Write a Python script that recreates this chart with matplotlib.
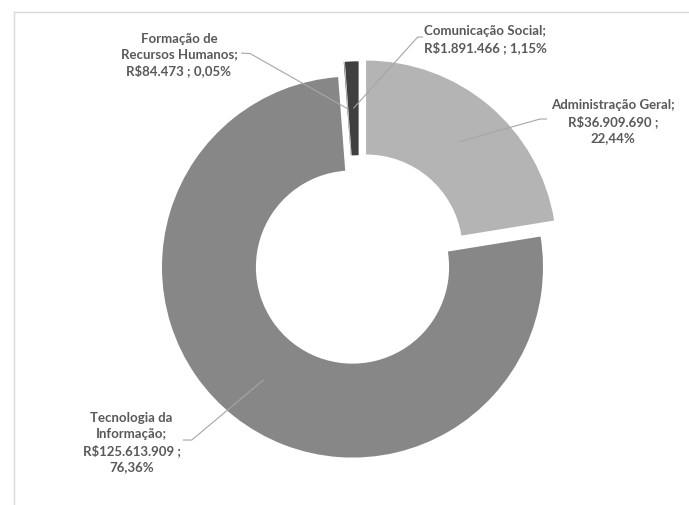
import numpy as np
import matplotlib.pyplot as plt
from matplotlib.lines import Line2D

plt.rcParams['font.family'] = ['Lato', 'DejaVu Sans']

# Despesas por área
areas = ['Administração Geral', 'Tecnologia da\nInformação',
         'Formação de\nRecursos Humanos', 'Comunicação Social']
valores = [36909690, 125613909, 84473, 1891466]
cores = ['#b4b4b4', '#878787', '#5c5c5c', '#404040']
separadores = [' ;\n', ' ;\n', ' ; ', ' ; ']

total = sum(valores)


def brl(v):
    return 'R$' + f'{v:,}'.replace(',', '.')


rotulos = []
for area, v, sep in zip(areas, valores, separadores):
    pct = f'{100 * v / total:.2f}'.replace('.', ',') + '%'
    rotulos.append(f'{area};\n{brl(v)}{sep}{pct}')

fig = plt.figure(figsize=(6.89, 5.06), dpi=100)
ax = fig.add_axes([0, 0, 1, 1])

wedges, _ = ax.pie(valores, colors=cores, startangle=90, counterclock=False,
                   explode=[0.11, 0, 0.08, 0.08], radius=1,
                   wedgeprops=dict(width=0.493, linewidth=0))

# as fatias pequenas ficam um pouco mais à direita
for w in wedges[2:]:
    cx, cy = w.center
    w.set_center((cx + 0.035, cy))

ax.set_xlim(-1.850, 1.766)
ax.set_ylim(-1.249, 1.407)
ax.set_aspect('equal')
ax.axis('off')

# posição do texto, cotovelo da linha e ponta junto ao texto
layout = [
    ((1.367, 0.768), (0.984, 0.777), (1.021, 0.777)),
    ((-1.160, -0.915), (-0.844, -0.908), (-0.890, -0.908)),
    ((-0.911, 1.118), (-0.538, 1.121), (-0.585, 1.123)),
    ((0.698, 1.198), (0.342, 1.207), (0.370, 1.207)),
]

for w, texto, (pos, cotovelo, ponta) in zip(wedges, rotulos, layout):
    ang = np.deg2rad((w.theta1 + w.theta2) / 2)
    r_mid = w.r - w.width / 2
    cx, cy = w.center
    x0, y0 = cx + r_mid * np.cos(ang), cy + r_mid * np.sin(ang)
    ax.plot([x0, cotovelo[0], ponta[0]], [y0, cotovelo[1], ponta[1]],
            color='#a6a6a6', lw=0.8, solid_capstyle='butt')
    ax.text(pos[0], pos[1], texto, ha='center', va='center',
            multialignment='center', fontsize=9.5, fontweight='bold',
            color='#595959', linespacing=1.38)

# moldura do gráfico
x_b = 14 / 689
y_b = 1 - 12.5 / 506
fig.add_artist(Line2D([x_b, x_b], [0, y_b], transform=fig.transFigure,
                      color='#d9d9d9', lw=1))
fig.add_artist(Line2D([x_b, 1], [y_b, y_b], transform=fig.transFigure,
                      color='#d9d9d9', lw=1))

fig.savefig('out.png', dpi=100, facecolor='white')
